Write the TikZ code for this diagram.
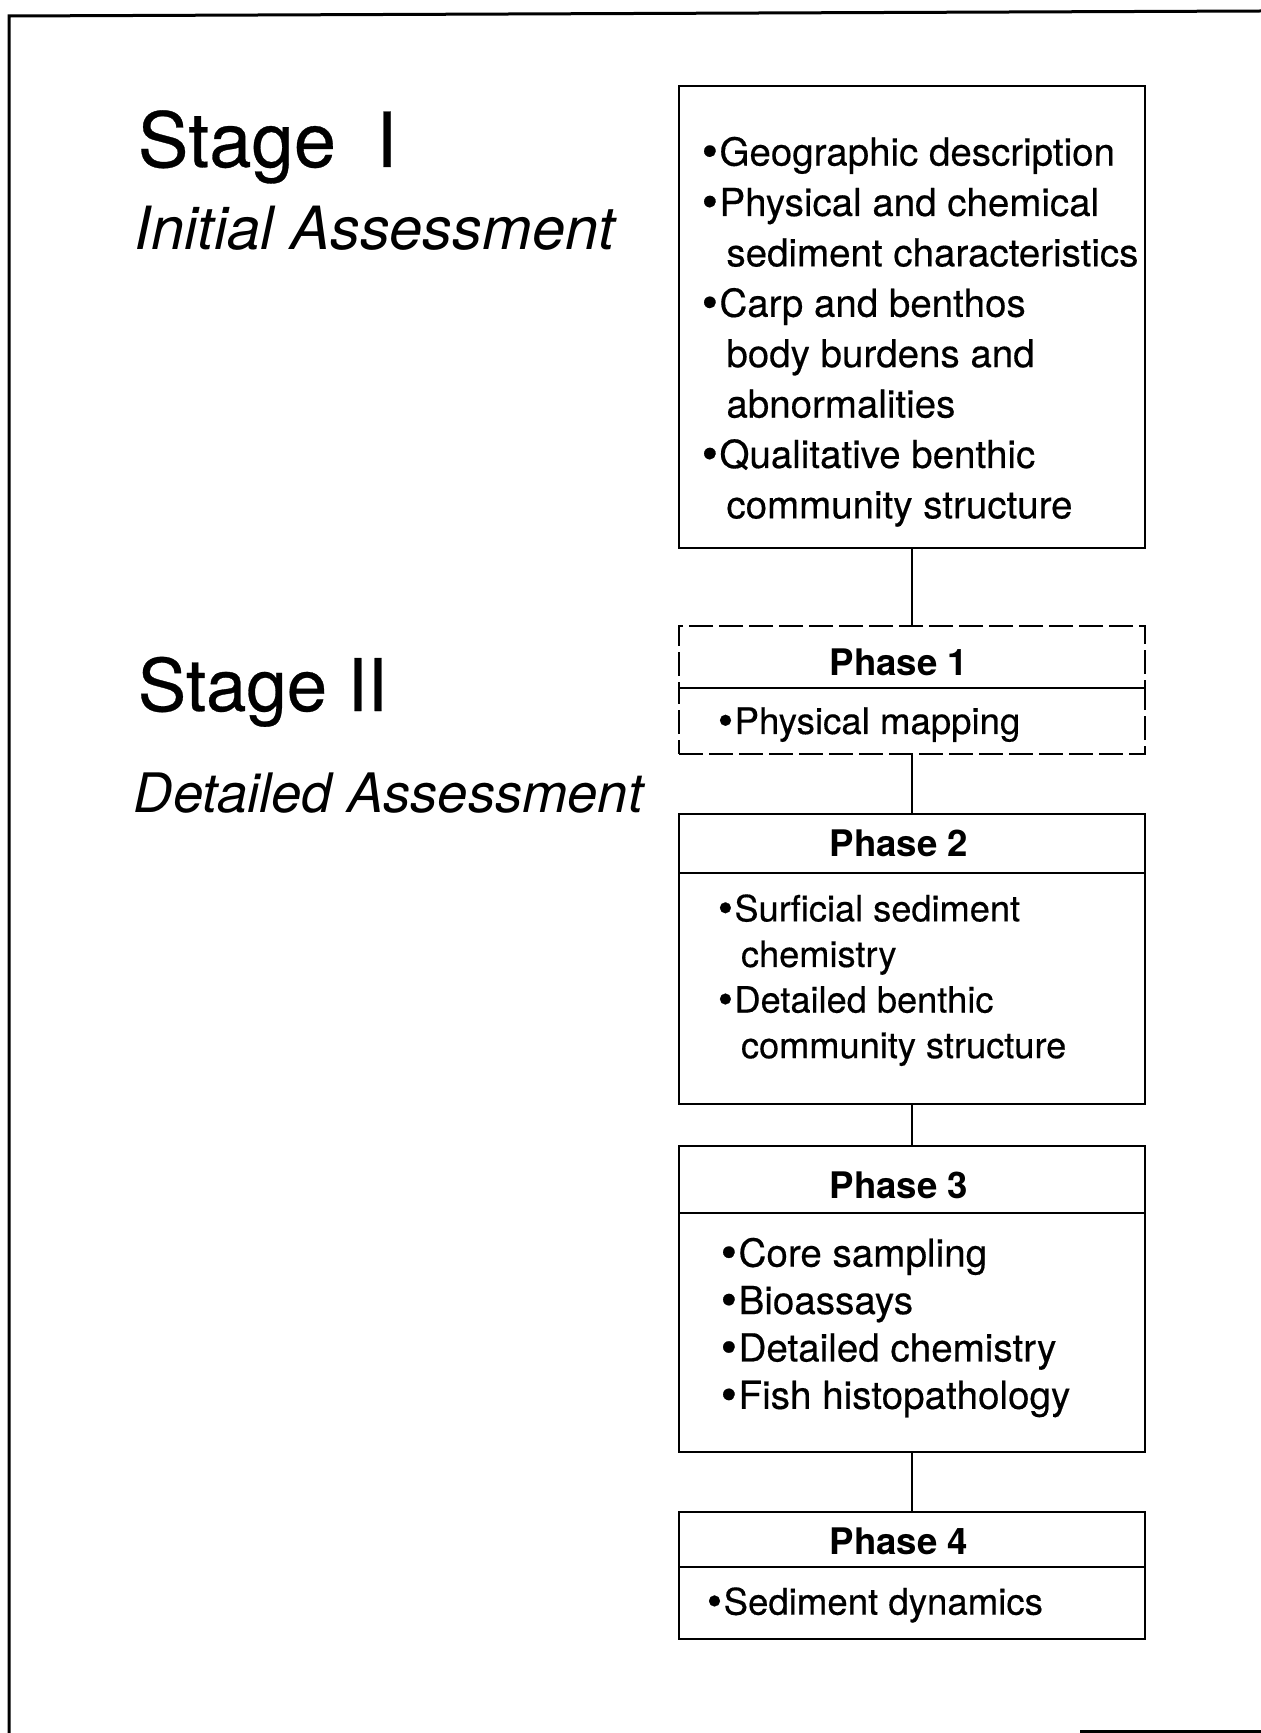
\documentclass[tikz,border=0pt]{standalone}
\usepackage{fontspec}
\usepackage{graphicx}
\setmainfont{TeX Gyre Heros}
\newfontfamily\scanfont{TeX Gyre Heros}[FakeBold=0.4]
\usetikzlibrary{positioning}
\newcommand{\contline}{\hspace*{0.64em}}
\newcommand{\itm}{\raisebox{-0.04em}{\scalebox{1.2}{\textbullet}}\kern0.04em}

\begin{document}
\begin{tikzpicture}[x=0.5pt,y=-0.5pt,line width=0.8pt,
    box/.style={draw,rectangle,minimum width=233pt,inner sep=0pt,outer sep=0pt},
    dashbox/.style={box,dash pattern=on 12pt off 3pt},
    phasename/.style={inner sep=0pt,font=\fontsize{18.3}{22}\selectfont\bfseries},
    items/.style={align=left,inner sep=0pt,font=\scanfont\fontsize{18.3}{22.8}\selectfont},
    stage/.style={anchor=base west,inner sep=0pt,font=\scanfont\fontsize{38}{44}\selectfont},
    assess/.style={anchor=base west,inner sep=0pt,font=\fontsize{29.8}{34}\selectfont\itshape}]
  \useasboundingbox (0,0) rectangle (1261,1733);
  \draw[line width=1.5pt] (9,1733) -- (9,16) -- (1261,11);
  \draw[line width=1.5pt] (1080,1731) -- (1261,1731);

  \node[stage] (st1) at (137,167) {Stage\hspace{20pt}I};
  \node[assess] (as1) at (134,250) {Initial Assessment};
  \node[stage,font=\scanfont\fontsize{36.3}{42}\selectfont] (st2) at (137,711) {Stage II};
  \node[assess,font=\fontsize{27.2}{32}\selectfont\itshape] (as2) at (133,812) {Detailed Assessment};

  % stage I box
  \node[box,minimum height=231pt] (s1) at (912,317) {};
  \node[items,font=\scanfont\fontsize{19.25}{25.2}\selectfont,below right=25pt and 11pt of s1.north west] (s1list)
    {\itm Geographic description\\
     \itm Physical and chemical\\
     \contline sediment characteristics\\
     \itm Carp and benthos\\
     \contline body burdens and\\
     \contline abnormalities\\
     \itm Qualitative benthic\\
     \contline community structure};

  % phases
  \node[dashbox,minimum height=31pt] (p1h) at (912,657) {};
  \node[dashbox,minimum height=33pt,below=0pt of p1h] (p1b) {};
  \node[phasename] (t1) at ([xshift=-6.5pt,yshift=-2.5pt]p1h.center) {Phase 1};
  \node[items,below right=9.25pt and 19pt of p1b.north west] (p1list) {\itm Physical mapping};

  \node[box,minimum height=29.5pt] (p2h) at (912,843.5) {};
  \node[box,minimum height=115.5pt,below=0pt of p2h] (p2b) {};
  \node[phasename] (t2) at ([xshift=-6.5pt]p2h.center) {Phase 2};
  \node[items,font=\scanfont\fontsize{18.1}{22.8}\selectfont,below right=10.25pt and 19pt of p2b.north west] (p2list)
    {\itm Surficial sediment\\
     \contline chemistry\\
     \itm Detailed benthic\\
     \contline community structure};

  \node[box,minimum height=33.5pt] (p3h) at (912,1179.5) {};
  \node[box,minimum height=119.5pt,below=0pt of p3h] (p3b) {};
  \node[phasename] (t3) at ([xshift=-6.5pt,yshift=-2.75pt]p3h.center) {Phase 3};
  \node[items,font=\scanfont\fontsize{19.3}{23.7}\selectfont,below right=12pt and 20.5pt of p3b.north west] (p3list)
    {\itm Core sampling\\
     \itm Bioassays\\
     \itm Detailed chemistry\\
     \itm Fish histopathology};

  \node[box,minimum height=27.5pt] (p4h) at (912,1539.5) {};
  \node[box,minimum height=36pt,below=0pt of p4h] (p4b) {};
  \node[phasename] (t4) at ([xshift=-6.5pt,yshift=-1pt]p4h.center) {Phase 4};
  \node[items,below right=9.75pt and 13.5pt of p4b.north west] (p4list) {\itm Sediment dynamics};

  \path[line width=0.6pt] (s1) edge (p1h)
        (p1b) edge (p2h)
        (p2b) edge (p3h)
        (p3b) edge (p4h);
\end{tikzpicture}
\end{document}
